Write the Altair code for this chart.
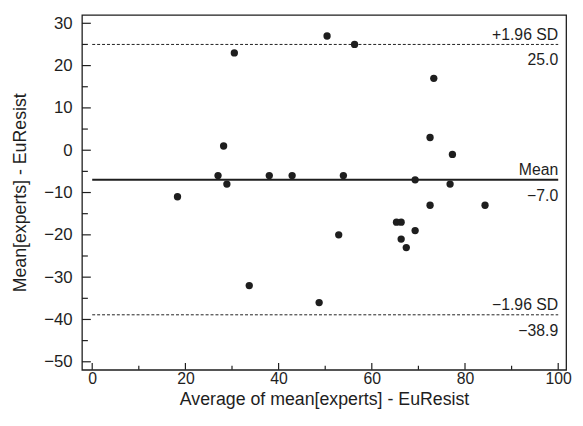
import altair as alt
import pandas as pd

# ---- data ----
avg_values = [18.3, 27.0, 28.2, 28.9, 30.5, 33.7, 38.0, 42.9, 48.7, 50.4, 52.9, 53.9,
              56.3, 65.3, 66.3, 66.3, 67.4, 69.3, 69.3, 72.5, 72.5, 73.3, 76.8, 77.3, 84.3]
diff_values = [-11, -6, 1, -8, 23, -32, -6, -6, -36, 27, -20, -6,
               25, -17, -17, -21, -23, -19, -7, -13, 3, 17, -8, -1, -13]

mean_value = -7.0
sd_values = [25.0, -38.9]
sd_names = ["+1.96 SD", "\u22121.96 SD"]
sd_labels = ["25.0", "\u221238.9"]
mean_name = "Mean"
mean_label = "\u22127.0"
line_start, line_end = 0, 100

x_major = [0, 20, 40, 60, 80, 100]
x_minor = [10, 30, 50, 70, 90]
y_major = [-50, -40, -30, -20, -10, 0, 10, 20, 30]
y_minor = [-45, -35, -25, -15, -5, 5, 15, 25]

x_title = "Average of mean[experts] - EuResist"
y_title = "Mean[experts] - EuResist"

# ---- chart ----
FONT = "Liberation Sans"
INK = "#1e1e1e"
W, H = 491, 360

pts = pd.DataFrame({"avg": avg_values, "diff": diff_values})
sd_df = pd.DataFrame({"value": sd_values, "name": sd_names, "label": sd_labels,
                      "x0": [line_start] * 2, "x1": [line_end] * 2})
mean_df = pd.DataFrame({"value": [mean_value], "name": [mean_name], "label": [mean_label],
                        "x0": [line_start], "x1": [line_end]})
lines_df = pd.concat([sd_df, mean_df], ignore_index=True)

xs = alt.Scale(domain=[-2.2, 101.7], nice=False, zero=False)
ys = alt.Scale(domain=[-51.9, 32.0], nice=False, zero=False)

XAX = alt.Axis(
    values=x_major, title=x_title, ticks=False, tickSize=0, domain=False, grid=False,
    labelPadding=1, labelFontSize=16, labelFlush=False, labelOverlap=False,
    titleFontSize=18, titleFontWeight="normal", titleX=W / 2, titleY=35.5,
    titleBaseline="alphabetic", titleAlign="center")
YAX = alt.Axis(
    values=y_major, title=y_title, ticks=False, tickSize=0, domain=False, grid=False,
    labelPadding=10, labelFontSize=17, labelFlush=False, labelOverlap=False,
    titleFontSize=18, titleFontWeight="normal", titleX=-62, titleY=H / 2,
    titleAngle=270, titleBaseline="middle", titleAlign="center")


def X(field):
    return alt.X(field, scale=xs, axis=XAX)


def Y(field):
    return alt.Y(field, scale=ys, axis=YAX)


points = alt.Chart(pts).mark_circle(size=55, color=INK, opacity=1).encode(
    x=X("avg:Q"), y=Y("diff:Q"))


def yticks(vals, length):
    return alt.Chart(pd.DataFrame({"v": vals})).mark_rule(color=INK, strokeWidth=1.2).encode(
        y=Y("v:Q"), x=alt.value(0), x2=alt.value(length))


def xticks(vals, length):
    return alt.Chart(pd.DataFrame({"v": vals})).mark_rule(color=INK, strokeWidth=1.2).encode(
        x=X("v:Q"), y=alt.value(H), y2=alt.value(H - length))


sd_rules = alt.Chart(sd_df).mark_rule(color=INK, strokeWidth=1, strokeDash=[3, 2]).encode(
    x=X("x0:Q"), x2="x1:Q", y=Y("value:Q"))
mean_rule = alt.Chart(mean_df).mark_rule(color=INK, strokeWidth=2).encode(
    x=X("x0:Q"), x2="x1:Q", y=Y("value:Q"))

names = alt.Chart(lines_df).mark_text(align="right", baseline="alphabetic", dy=-5,
                                      fontSize=16, font=FONT, color=INK).encode(
    x=X("x1:Q"), y=Y("value:Q"), text="name:N")
labels = alt.Chart(lines_df).mark_text(align="right", baseline="alphabetic", dy=21,
                                       fontSize=16, font=FONT, color=INK).encode(
    x=X("x1:Q"), y=Y("value:Q"), text="label:N")

chart = alt.layer(
    yticks(y_major, 9), yticks(y_minor, 6), xticks(x_major, 7), xticks(x_minor, 4),
    sd_rules, mean_rule, names, labels, points,
).properties(
    width=W, height=H,
    autosize=alt.AutoSizeParams(type="none"),
    padding={"left": 75, "top": 4, "right": 9, "bottom": 50},
).configure_view(
    stroke=INK, strokeWidth=1.3
).configure_axis(
    labelFont=FONT, titleFont=FONT, labelColor=INK, titleColor=INK
)

chart.save("out.html", embed_options={"renderer": "svg", "actions": False})
